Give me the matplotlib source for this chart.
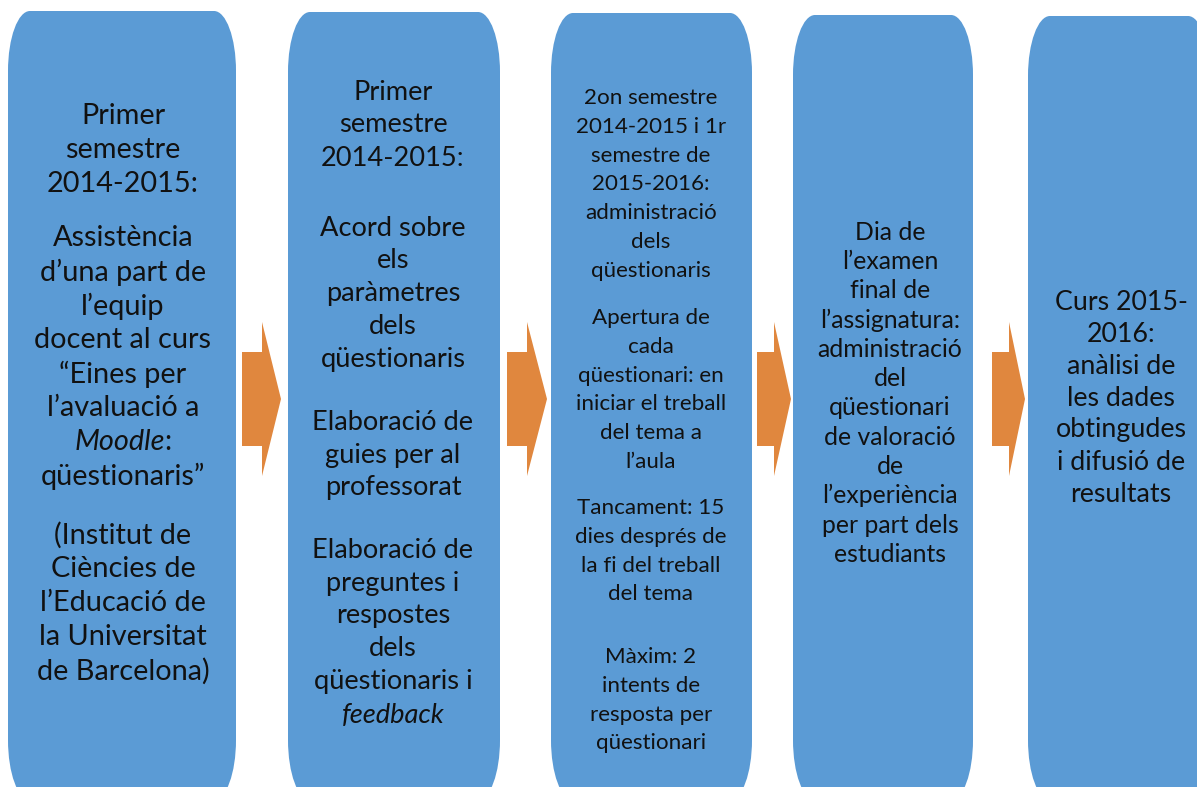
import matplotlib
matplotlib.use('Agg')
import matplotlib.pyplot as plt
from matplotlib.path import Path
from matplotlib.patches import PathPatch, Polygon

# text of each stage (paragraphs -> lines); _word_ marks italic
stage1 = [["Primer", "semestre", "2014-2015:"],
          ["Assistència", "d’una part de", "l’equip", "docent al curs", "“Eines per",
           "l’avaluació a", "_Moodle_:", "qüestionaris”"],
          ["(Institut de", "Ciències de", "l’Educació de", "la Universitat", "de Barcelona)"]]
stage2 = [["Primer", "semestre", "2014-2015:"],
          ["Acord sobre", "els", "paràmetres", "dels", "qüestionaris"],
          ["Elaboració de", "guies per al", "professorat"],
          ["Elaboració de", "preguntes i", "respostes", "dels", "qüestionaris i", "_feedback_"]]
stage3 = [["2on semestre", "2014-2015 i 1r", "semestre de", "2015-2016:", "administració",
           "dels", "qüestionaris"],
          ["Apertura de", "cada", "qüestionari: en", "iniciar el treball", "del tema a", "l’aula"],
          ["Tancament: 15", "dies després de", "la fi del treball", "del tema"],
          ["Màxim: 2", "intents de", "resposta per", "qüestionari"]]
stage4 = [["Dia de", "l’examen", "final de", "l’assignatura:", "administració", "del",
           "qüestionari", "de valoració", "de", "l’experiència", "per part dels", "estudiants"]]
stage5 = [["Curs 2015-", "2016:", "anàlisi de", "les dades", "obtingudes", "i difusió de",
           "resultats"]]
stages = [stage1, stage2, stage3, stage4, stage5]

# layout (pixels)
box_x = [(8, 236), (288, 500), (551, 752), (793, 973), (1028, 1210)]
box_top = [11, 12, 13, 15, 16]
text_cx = [123, 393, 651, 890, 1121]
para_y = [[116, 238, 535], [92, 228, 422, 550], [98, 318, 508, 657], [232], [302]]
line_step = [34, 33, 28.8, 29.3, 32]
font_size = [20.8, 19.6, 16.1, 17.8, 19.3]
arrow_x = [(242, 262, 281), (507, 527, 547), (757, 774, 791), (992, 1009, 1025)]

BLUE = '#5B9BD5'
ORANGE = '#E0873E'
FONT = 'Lato'

W, H = 1197, 787
fig = plt.figure(figsize=(W / 100, H / 100), dpi=100)
ax = fig.add_axes([0, 0, 1, 1])
ax.set_xlim(0, W)
ax.set_ylim(H, 0)
ax.axis('off')


def rounded_box(x0, x1, y0, y1, rx=22, ry=60):
    k = 0.5523
    verts = [(x0 + rx, y0), (x1 - rx, y0),
             (x1 - rx + k * rx, y0), (x1, y0 + ry - k * ry), (x1, y0 + ry),
             (x1, y1 - ry),
             (x1, y1 - ry + k * ry), (x1 - rx + k * rx, y1), (x1 - rx, y1),
             (x0 + rx, y1),
             (x0 + rx - k * rx, y1), (x0, y1 - ry + k * ry), (x0, y1 - ry),
             (x0, y0 + ry),
             (x0, y0 + ry - k * ry), (x0 + rx - k * rx, y0), (x0 + rx, y0),
             (x0 + rx, y0)]
    codes = [Path.MOVETO, Path.LINETO,
             Path.CURVE4, Path.CURVE4, Path.CURVE4,
             Path.LINETO,
             Path.CURVE4, Path.CURVE4, Path.CURVE4,
             Path.LINETO,
             Path.CURVE4, Path.CURVE4, Path.CURVE4,
             Path.LINETO,
             Path.CURVE4, Path.CURVE4, Path.CURVE4,
             Path.CLOSEPOLY]
    return PathPatch(Path(verts, codes), facecolor=BLUE, edgecolor='none')


for (x0, x1), top in zip(box_x, box_top):
    ax.add_patch(rounded_box(x0, x1, top, 800))

for xa, xb, xc in arrow_x:
    pts = [(xa, 352), (xb, 352), (xb, 322), (xc, 399), (xb, 476), (xb, 446), (xa, 446)]
    ax.add_patch(Polygon(pts, closed=True, facecolor=ORANGE, edgecolor='none'))

renderer = fig.canvas.get_renderer()


def split_segments(line):
    parts = line.split('_')
    return [(p, i % 2 == 1) for i, p in enumerate(parts) if p]


def draw_line(cx, y, line, size):
    items = []
    for s, it in split_segments(line):
        t = ax.text(0, y, s, fontsize=size, family=FONT, color='#111111',
                    style='italic' if it else 'normal', ha='left', va='center')
        items.append((t, t.get_window_extent(renderer).width))
    x = cx - sum(w for _, w in items) / 2
    for t, w in items:
        t.set_x(x)
        x += w


for i, paras in enumerate(stages):
    for p, lines in enumerate(paras):
        y = para_y[i][p]
        for line in lines:
            draw_line(text_cx[i], y, line, font_size[i])
            y += line_step[i]

fig.savefig('out.png', dpi=100)
